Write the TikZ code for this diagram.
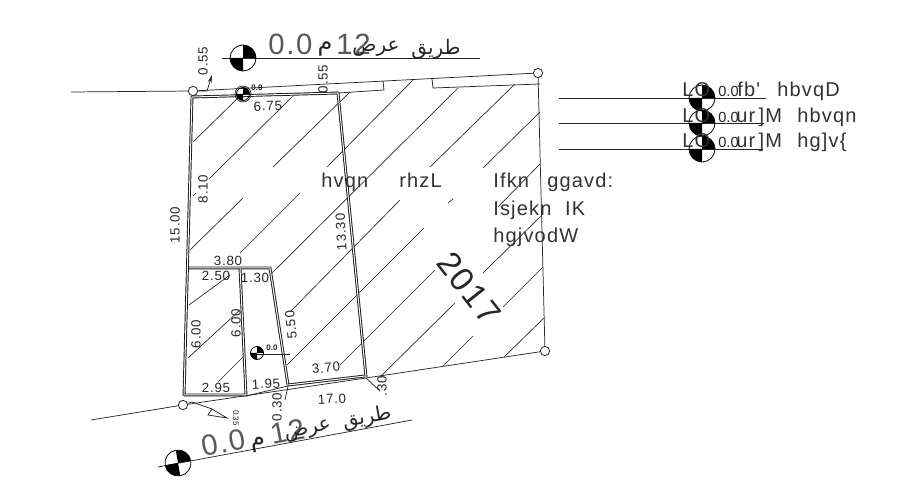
\documentclass[tikz,border=0pt]{standalone}
\usepackage{fontspec}
\setmainfont{Liberation Sans}
\newfontfamily\cad[LetterSpace=6]{Liberation Sans}
\newfontfamily\arabicfont[Script=Arabic]{DejaVu Sans}
\TeXXeTstate=1
\usetikzlibrary{arrows.meta}
\tikzset{
  x=0.75pt,y=-0.75pt,
  thinline/.style={draw=black!85,line width=0.55pt},
  hatch/.style={draw=black!85,line width=0.5pt},
  wall/.style={draw=black!90,line width=0.7pt,double=white,double distance=0.75pt,line cap=butt},
  dim/.style={font=\cad\fontsize{10}{10}\selectfont,text=black!85,inner sep=0pt},
  body/.style={font=\cad\fontsize{15}{15}\selectfont,text=black!80,inner sep=0pt,anchor=base west},
  pin/.style={circle,draw=black!85,line width=0.6pt,minimum size=7pt,inner sep=0pt,fill=none},
  lvl/.style={font=\bfseries\fontsize{6}{6}\selectfont,inner sep=0pt,text=black!85},
  big/.style={font=\cad\fontsize{22}{22}\selectfont,text=black!65,inner sep=0pt,anchor=base west},
  ar/.style={font=\arabicfont\fontsize{15}{15}\selectfont,text=black!85,inner sep=0pt},
  arm/.style={font=\arabicfont\fontsize{18}{18}\selectfont,text=black!85,inner sep=0pt},
}
\newcommand{\levelmark}[4][0]{%
  \begin{scope}[shift={(#2,#3)},rotate=#1]
    \fill[black] (0,0) -- (#4,0) arc[start angle=0,end angle=90,radius=#4*0.75pt] -- cycle;
    \fill[black] (0,0) -- (-#4,0) arc[start angle=180,end angle=270,radius=#4*0.75pt] -- cycle;
    \draw[black,line width=0.6pt] (0,0) circle[radius=#4*0.75pt];
  \end{scope}}
\begin{document}
\begin{tikzpicture}
\useasboundingbox[fill=white] (0,0) rectangle (908,499);
% control points
\node[pin] (a) at (193,91) {};
\node[pin] (b) at (538,73) {};
\node[pin] (c) at (545,351) {};
\node[pin] (d) at (183,405) {};
\coordinate (rl) at (71,92);
\coordinate (bl) at (91,420);
\coordinate (k1) at (366,378);
% road and plot outline
\draw[thinline] (rl) -- (a) -- (b) -- (c) -- (k1) -- (d) -- (bl);
% setback stubs
\draw[thinline] (338,93) -- (384,90) -- (383,81);
\draw[thinline] (432,79) -- (433,88) -- (540,84);
% hatching
\foreach \xa/\ya/\xb/\yb in {
 193/142/238/98,193/196/196/193,209/179/293/96,
 190/250/243/198,273/167/350/92,
 240/253/300/193,327/167/413/80,
 272/273/458/88,290/312/400/200,430/167/515/84,
 287/365/424/228,448/203/453/199,483/168/540/112,
 340/365/435/270,498/207/540/164,
 380/377/455/303,483/273/541/216,
 443/366/473/336,503/307/543/267,
 504/357/544/318,
 189/305/230/275,188/358/240/310,218/382/243/357}
 {\draw[hatch] (\xa,\ya) -- (\xb,\yb);}
% double walls
\draw[wall] (184,396) -- (192,97) -- (338,93) -- (366,377);
\draw[wall] (189,268) -- (270,268) -- (288,385);
\draw[wall] (288,385) -- (365,376);
\draw[wall] (240,268) -- (246,395) -- (184,395);
\draw[thinline] (246,396) -- (288,386) -- (285,400);
% leaders
\draw[thinline,-{Stealth[length=6pt,width=3pt]}] (a) -- (207,91) -- (212,75);
\draw[thinline] (k1) -- (380,391);
\draw[thinline] (d) -- (192,402) -- (212,409);
\draw[thinline] (212,409) -- (227,418) -- (208,415) -- cycle;
% road lines and level markers
\draw[thinline] (222,58) -- (480,58);
\levelmark{243}{58}{13}
\draw[thinline] (158,467) -- (412,420);
\levelmark[10]{178}{463}{13}
\draw[thinline] (559,98) -- (766,98);
\draw[thinline] (559,123) -- (764,123);
\draw[thinline] (559,149) -- (763,149);
\levelmark{702}{98}{13}
\levelmark{702}{123}{13}
\levelmark{702}{149}{13}
\draw[thinline] (243,94) circle[radius=8*0.75pt];
\levelmark{243}{94}{6.5}
\draw[thinline] (257,354) -- (290,354);
\levelmark{257}{353}{6.5}
\node[lvl] (lv1) at (257,88) {0.0};
\node[lvl] (lv2) at (272,348) {0.0};
% top road title
\node[big] (t1) at (268,55) {0.0};
\node[arm] (t2) at (325,49) {\beginR م\endR};
\node[big] (t3) at (336,55) {12};
\node[ar] (t4) at (376,49) {\beginR عرض\endR};
\node[ar] (t5) at (436,49) {\beginR طريق\endR};
% bottom road title
\node[big,rotate=10.5] (b1) at (203,457) {0.0};
\node[arm,rotate=10.5] (b2) at (259,445) {\beginR م\endR};
\node[big,rotate=10.5] (b3) at (272,445) {12};
\node[ar,rotate=10.5] (b4) at (308,431) {\beginR عرض\endR};
\node[ar,rotate=10.5] (b5) at (367,418) {\beginR طريق\endR};
% dimensions
\node[dim,rotate=90] (d1) at (203,61) {0.55};
\node[dim,rotate=90] (d2) at (323,79) {0.55};
\node[dim,rotate=2] (d3) at (268,106) {6.75};
\node[dim,rotate=90] (d4) at (203,189) {8.10};
\node[dim,rotate=90] (d5) at (175,225) {15.00};
\node[dim,rotate=93] (d6) at (341,232) {13.30};
\node[dim] (d7) at (228,261) {3.80};
\node[dim] (d8) at (216,276) {2.50};
\node[dim] (d9) at (255,278) {1.30};
\node[dim,rotate=90] (d10) at (196,334) {6.00};
\node[dim,rotate=90] (d11) at (236,323) {6.00};
\node[dim,rotate=95] (d12) at (291,325) {5.50};
\node[dim,rotate=5] (d13) at (326,368) {3.70};
\node[dim] (d14) at (216,388) {2.95};
\node[dim,rotate=3] (d15) at (266,384) {1.95};
\node[dim,rotate=90] (d16) at (277,407) {0.30};
\node[dim,rotate=90] (d17) at (382,386) {.30};
\node[dim,rotate=3] (d18) at (332,399) {17.0};
\node[dim,rotate=-90,font=\fontsize{6}{6}\selectfont] (d19) at (236,418) {0.35};
% central text
\node[body] (m1) at (321,188) {hvqn};
\node[body] (m2) at (399,188) {rhzL};
\node[body] (m3) at (493,188) {Ifkn};
\node[body] (m4) at (547,188) {ggavd:};
\node[body] (m5) at (493,216) {Isjekn\ \ IK};
\node[body] (m6) at (493,243) {hgjvodW};
\node[font=\cad\fontsize{25}{25}\selectfont,text=black!85,inner sep=0pt,rotate=-52] (yr) at (469,288) {2017};
% legend
\node[body] (l1) at (682,97) {LO};
\node[dim,anchor=base west,font=\fontsize{11}{11}\selectfont] (l1a) at (718,97) {0.0};
\node[body] (l1b) at (737,97) {fb'};
\node[body] (l1c) at (777,97) {hbvqD};
\node[body] (l2) at (682,123) {LO};
\node[dim,anchor=base west,font=\fontsize{11}{11}\selectfont] (l2a) at (718,123) {0.0};
\node[body] (l2b) at (736,123) {ur\,]M};
\node[body] (l2c) at (797,123) {hbvqn};
\node[body] (l3) at (682,148) {LO};
\node[dim,anchor=base west,font=\fontsize{11}{11}\selectfont] (l3a) at (718,148) {0.0};
\node[body] (l3b) at (736,148) {ur\,]M};
\node[body] (l3c) at (797,148) {hg]v\{};
\end{tikzpicture}
\end{document}
